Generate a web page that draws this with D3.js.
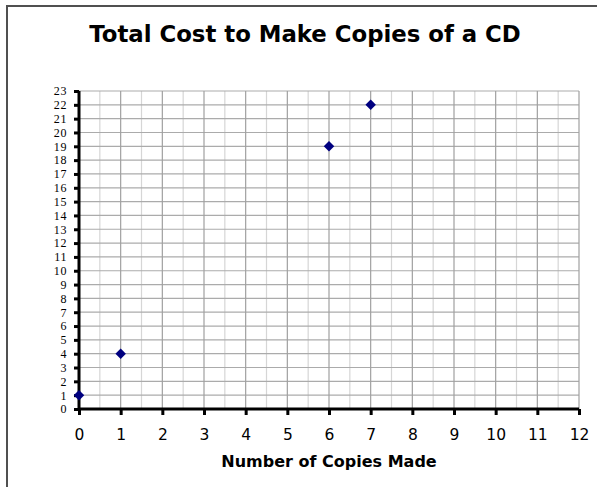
<!DOCTYPE html>
<html>
<head>
<meta charset="utf-8">
<script src="https://cdn.jsdelivr.net/npm/d3@7"></script>
<style>
html,body{margin:0;padding:0;background:#fff;}
svg{display:block;}
</style>
</head>
<body>
<svg id="chart" width="597" height="487"></svg>
<script>
const copies = [0, 1, 6, 7];
const cost = [1, 4, 19, 22];
const xTicks = d3.range(0, 13);
const yTicks = d3.range(0, 24);
const titleText = "Total Cost to Make Copies of a CD";
const xTitleText = "Number of Copies Made";

(function () {
const svg = d3.select("#chart");
const pL = 79, pR = 579, pT = 91, pB = 409;

const x = d3.scaleLinear().domain([0, 12]).range([pL, pR]);
const y = d3.scaleLinear().domain([0, 23]).range([pB, pT]);

// outer border
svg.append("rect").attr("x", 7).attr("y", 6).attr("width", 600).attr("height", 500)
  .attr("fill", "none").attr("stroke", "#505050").attr("stroke-width", 2);

// title
svg.append("text").attr("x", 305).attr("y", 42).attr("text-anchor", "middle")
  .style("font-family", "'DejaVu Sans', Verdana, sans-serif").style("font-weight", "bold")
  .style("font-size", "22.8px").attr("fill", "#000").text(titleText);

const grid = svg.append("g");
grid.selectAll(".vminor").data(d3.range(0.5, 12, 1)).enter().append("line")
  .attr("x1", d => x(d)).attr("x2", d => x(d)).attr("y1", pT).attr("y2", pB)
  .attr("stroke", "#d6d6d6").attr("stroke-width", 1.2);
grid.selectAll(".h").data(yTicks.slice(1)).enter().append("line")
  .attr("x1", pL).attr("x2", pR).attr("y1", d => y(d)).attr("y2", d => y(d))
  .attr("stroke", "#ababab").attr("stroke-width", 1.2);
grid.selectAll(".vmajor").data(xTicks.slice(1)).enter().append("line")
  .attr("x1", d => x(d)).attr("x2", d => x(d)).attr("y1", pT).attr("y2", pB)
  .attr("stroke", "#a0a0a0").attr("stroke-width", 1.2);

// y axis
const yAxis = svg.append("g").attr("transform", `translate(${pL},0)`)
  .call(d3.axisLeft(y).tickValues(yTicks).tickSize(5).tickPadding(6).tickFormat(d3.format("d")));
yAxis.select(".domain").attr("stroke", "#000").attr("stroke-width", 3)
  .attr("d", `M0,${pT}V${pB}`);
yAxis.selectAll(".tick line").attr("stroke", "#000").attr("stroke-width", 3);
yAxis.selectAll(".tick text")
  .style("font-family", "'Liberation Serif', 'Times New Roman', serif")
  .style("font-size", "12px").style("letter-spacing", "0.6px")
  .attr("fill", "#000").attr("x", -12);

// x axis
const xAxis = svg.append("g").attr("transform", `translate(0,${pB})`)
  .call(d3.axisBottom(x).tickValues(xTicks).tickSize(6).tickPadding(13).tickFormat(d3.format("d")));
xAxis.select(".domain").attr("stroke", "#000").attr("stroke-width", 3)
  .attr("d", `M${pL},0H${pR}`);
xAxis.selectAll(".tick line").attr("stroke", "#000").attr("stroke-width", 3);
xAxis.selectAll(".tick text")
  .style("font-family", "'DejaVu Sans', Verdana, sans-serif")
  .style("font-size", "15.5px").attr("fill", "#000")
  .attr("dy", null).attr("y", 31);

// x title
svg.append("text").attr("x", 329).attr("y", 467).attr("text-anchor", "middle")
  .style("font-family", "'DejaVu Sans', Verdana, sans-serif").style("font-weight", "bold")
  .style("font-size", "16px").attr("fill", "#000").text(xTitleText);

// points
const pts = copies.map((c, i) => ({c, v: cost[i]}));
svg.append("g").selectAll("path").data(pts).enter().append("path")
  .attr("d", d3.symbol().type(d3.symbolDiamond2).size(70))
  .attr("transform", d => `translate(${x(d.c)},${y(d.v)})`)
  .attr("fill", "#000080");
})();
</script>
</body>
</html>
